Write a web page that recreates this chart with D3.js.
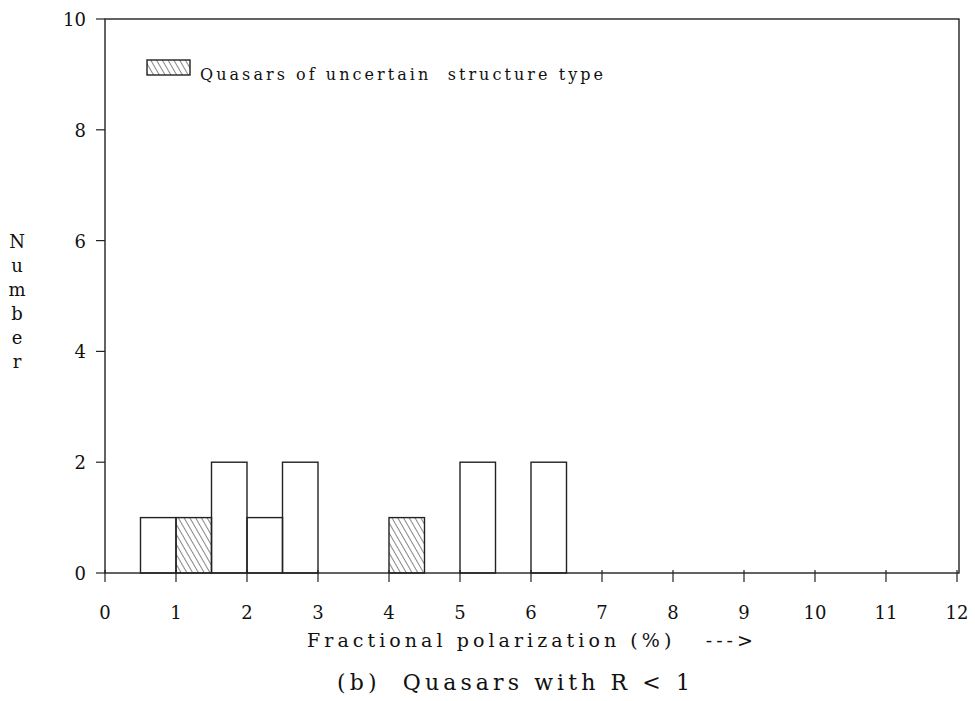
<!DOCTYPE html>
<html>
<head>
<meta charset="utf-8">
<script src="https://cdn.jsdelivr.net/npm/d3@7"></script>
<style>
  body { margin: 0; background: #fff; }
  text { font-family: "DejaVu Serif", "Liberation Serif", serif; fill: #111; }
</style>
</head>
<body>
<svg id="chart" width="975" height="701"></svg>
<script>
// histogram bins (left edge, right edge) and counts
var binStart = [0.5, 1.0, 1.5, 2.0, 2.5, 4.0, 5.0, 6.0];
var binEnd   = [1.0, 1.5, 2.0, 2.5, 3.0, 4.5, 5.5, 6.5];
var counts   = [1, 1, 2, 1, 2, 1, 2, 2];
var uncertain = [false, true, false, false, false, true, false, false];

var xTicks = [0, 1, 2, 3, 4, 5, 6, 7, 8, 9, 10, 11, 12];
var yTicks = [0, 2, 4, 6, 8, 10];

var margin = { top: 19, right: 18, bottom: 128, left: 105 };
var width = 975, height = 701;

var svg = d3.select("#chart");

var x = d3.scaleLinear().domain([0, 12]).range([margin.left, width - margin.right]);
var y = d3.scaleLinear().domain([0, 10]).range([height - margin.bottom, margin.top]);

// hatch pattern (lines running top-left to bottom-right)
var defs = svg.append("defs");
var pat = defs.append("pattern")
    .attr("id", "hatch")
    .attr("patternUnits", "userSpaceOnUse")
    .attr("width", 5)
    .attr("height", 5)
    .attr("patternTransform", "rotate(-30)");
pat.append("line")
    .attr("x1", 0).attr("y1", 0)
    .attr("x2", 0).attr("y2", 5)
    .attr("stroke", "#222")
    .attr("stroke-width", 1.1);

// frame
svg.append("rect")
    .attr("x", x(0))
    .attr("y", y(10))
    .attr("width", x(12) - x(0) + 2)
    .attr("height", y(0) - y(10))
    .attr("fill", "none")
    .attr("stroke", "#222")
    .attr("stroke-width", 1.4);

var data = counts.map(function(c, i) {
    return { x0: binStart[i], x1: binEnd[i], n: c, hatched: uncertain[i] };
});

svg.selectAll("rect.bar")
    .data(data)
    .enter()
    .append("rect")
    .attr("class", "bar")
    .attr("x", function(d) { return x(d.x0); })
    .attr("y", function(d) { return y(d.n); })
    .attr("width", function(d) { return x(d.x1) - x(d.x0); })
    .attr("height", function(d) { return y(0) - y(d.n); })
    .attr("fill", function(d) { return d.hatched ? "url(#hatch)" : "none"; })
    .attr("stroke", "#222")
    .attr("stroke-width", 1.4);

// x axis ticks
svg.append("g")
    .selectAll("line")
    .data(xTicks)
    .enter()
    .append("line")
    .attr("x1", function(d) { return x(d); })
    .attr("x2", function(d) { return x(d); })
    .attr("y1", y(0) - 3)
    .attr("y2", y(0) + 9)
    .attr("stroke", "#222")
    .attr("stroke-width", 1.2);

svg.append("g")
    .selectAll("text")
    .data(xTicks)
    .enter()
    .append("text")
    .attr("x", function(d) { return x(d); })
    .attr("y", y(0) + 46)
    .attr("text-anchor", "middle")
    .style("font-size", "18px")
    .text(function(d) { return d; });

// y axis ticks
svg.append("g")
    .selectAll("line")
    .data(yTicks)
    .enter()
    .append("line")
    .attr("x1", x(0) - 9)
    .attr("x2", x(0))
    .attr("y1", function(d) { return y(d); })
    .attr("y2", function(d) { return y(d); })
    .attr("stroke", "#222")
    .attr("stroke-width", 1.2);

svg.append("g")
    .selectAll("text")
    .data(yTicks)
    .enter()
    .append("text")
    .attr("x", x(0) - 19)
    .attr("y", function(d) { return y(d) + 7; })
    .attr("text-anchor", "end")
    .style("font-size", "18px")
    .text(function(d) { return d; });

// y label, stacked letters
var yLabel = "Number".split("");
svg.append("g")
    .selectAll("text")
    .data(yLabel)
    .enter()
    .append("text")
    .attr("x", 17)
    .attr("y", function(d, i) { return 248 + i * 24; })
    .attr("text-anchor", "middle")
    .style("font-size", "18px")
    .text(function(d) { return d; });

// x label
svg.append("text")
    .attr("x", 307)
    .attr("y", 647)
    .attr("textLength", 446)
    .attr("lengthAdjust", "spacing")
    .style("font-size", "19px")
    .style("white-space", "pre")
    .text("Fractional polarization (%)   --->");

// caption
svg.append("text")
    .attr("x", 337)
    .attr("y", 690)
    .attr("textLength", 353)
    .attr("lengthAdjust", "spacing")
    .style("font-size", "22px")
    .style("white-space", "pre")
    .text("(b)  Quasars with R < 1");

// legend
svg.append("rect")
    .attr("x", 147)
    .attr("y", 60)
    .attr("width", 43)
    .attr("height", 15)
    .attr("fill", "url(#hatch)")
    .attr("stroke", "#222")
    .attr("stroke-width", 1.4);

svg.append("text")
    .attr("x", 200)
    .attr("y", 80)
    .attr("textLength", 403)
    .attr("lengthAdjust", "spacing")
    .style("font-size", "16px")
    .style("white-space", "pre")
    .text("Quasars of uncertain  structure type");
</script>
</body>
</html>
